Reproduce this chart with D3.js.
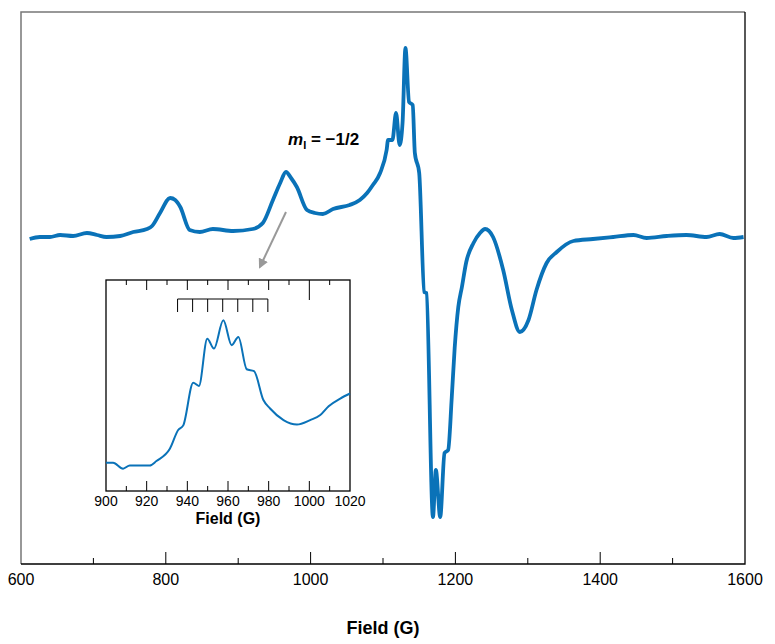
<!DOCTYPE html>
<html>
<head>
<meta charset="utf-8">
<script src="https://cdn.jsdelivr.net/npm/d3@7"></script>
<style>
  body { margin: 0; background: #fff; }
  text { font-family: 'Liberation Sans', Arial, sans-serif; }
</style>
</head>
<body>
<svg></svg>
<script>
// main spectrum, field in G, signal in arbitrary units
const mainField = [612, 626, 640, 654, 672, 691, 705, 718, 737, 755, 774, 781, 792, 806, 813, 820,
  833, 847, 865, 893, 920, 934, 948, 958, 966, 973, 981, 995, 1006, 1017, 1031, 1054, 1068, 1078,
  1086, 1096, 1105, 1107, 1113, 1118, 1123, 1127, 1131, 1136, 1141, 1144, 1150, 1157, 1160, 1169,
  1173, 1179, 1185, 1190, 1195, 1199, 1204, 1209, 1215, 1225, 1234, 1241, 1252, 1266, 1278, 1289,
  1301, 1312, 1326, 1340, 1363, 1390, 1418, 1446, 1464, 1492, 1519, 1547, 1565, 1584, 1598]
const mainSignal = [-2, 0, 0, 2, 1, 4, 2, 0, 1, 5, 8, 11, 24, 39, 37, 30,
  7, 5, 8, 6, 8, 14, 37, 54, 65, 59, 50, 27, 24, 23, 28, 32, 37, 44,
  52, 64, 87, 97, 97, 124, 92, 114, 189, 135, 132, 84, 64, -55, -56, -280,
  -233, -280, -216, -213, -160, -111, -70, -50, -25, -6, 4, 8, 0, -33, -73, -95,
  -83, -53, -26, -15, -4, -2, 0, 2, -1, 1, 2, 0, 3, -1, 0]

// inset: zoom on the m_I = -1/2 line
const insetField = [900, 903.5, 908.4, 911.7, 921.5, 924.8, 931.4, 935.5, 938, 942.9, 945.7, 949.8,
  953.1, 957.7, 961.8, 965.1, 969.2, 972.8, 977.4, 980.7, 987.3, 993.9, 1000.4, 1005.4, 1009.5,
  1015.2, 1020]
const insetSignal = [13.4, 13.4, 10.6, 12.1, 12.1, 14.2, 20, 28.9, 31.1, 51.3, 49.8, 72.2,
  67.5, 80.9, 69.1, 73, 57.7, 56.8, 43.1, 39.1, 33.6, 31.5, 33.6, 36, 40.2, 43.8, 46.2]

// hyperfine stick positions
const stickFields = [935.2, 942.6, 950.0, 957.4, 964.8, 972.2, 979.6]

const mainTicks = [600, 800, 1000, 1200, 1400, 1600]
const insetTicks = [900, 920, 940, 960, 980, 1000, 1020]

const width = 775
const height = 644
const blue = '#0a72b8'

const svg = d3.select('svg')
  .attr('width', width)
  .attr('height', height)

const x = d3.scaleLinear().domain([600, 1600]).range([21, 745])
const y = d3.scaleLinear().domain([-327, 225]).range([564, 12])

const mainData = mainField.map((f, i) => ({ f: f, s: mainSignal[i] }))

// frame: grey left/top, black right/bottom
svg.append('path')
  .attr('d', `M${x(600)},${y(-327)}V${y(225)}H${x(1600)}`)
  .attr('fill', 'none').attr('stroke', '#777').attr('stroke-width', 1.5)
svg.append('path')
  .attr('d', `M${x(600)},${y(-327)}H${x(1600)}V${y(225)}`)
  .attr('fill', 'none').attr('stroke', '#000').attr('stroke-width', 1.3)

// bottom ticks, pointing inward
svg.selectAll('.tick')
  .data(d3.range(700, 1600, 100))
  .enter().append('line')
  .attr('x1', (d) => x(d)).attr('x2', (d) => x(d))
  .attr('y1', y(-327))
  .attr('y2', (d) => y(-327) - (d % 200 === 0 ? 12 : 6))
  .attr('stroke', '#000').attr('stroke-width', 1)

svg.selectAll('.tlabel')
  .data(mainTicks)
  .enter().append('text')
  .attr('x', (d) => x(d))
  .attr('y', 585)
  .attr('text-anchor', 'middle')
  .attr('font-size', 16)
  .text((d) => d)

svg.append('text')
  .attr('x', (x(600) + x(1600)) / 2)
  .attr('y', 634)
  .attr('text-anchor', 'middle')
  .attr('font-size', 18)
  .attr('font-weight', 'bold')
  .text('Field (G)')

// the spectrum
const line = d3.line()
  .curve(d3.curveMonotoneX)
  .x((d) => x(d.f))
  .y((d) => y(d.s))

svg.append('path')
  .datum(mainData)
  .attr('fill', 'none')
  .attr('stroke', blue)
  .attr('stroke-width', 3.8)
  .attr('stroke-linejoin', 'round')
  .attr('d', line)

// m_I label
const lab = svg.append('text')
  .attr('x', 288)
  .attr('y', 145)
  .attr('font-size', 17)
  .attr('font-weight', 'bold')
lab.append('tspan').attr('font-style', 'italic').text('m')
lab.append('tspan').attr('font-size', 11).attr('dy', 4).text('I')
lab.append('tspan').attr('dy', -4).text(' = \u22121/2')

// arrow to inset
svg.append('defs').append('marker')
  .attr('id', 'head')
  .attr('viewBox', '0 0 10 10')
  .attr('refX', 8).attr('refY', 5)
  .attr('markerWidth', 5).attr('markerHeight', 5)
  .attr('orient', 'auto')
  .append('path')
  .attr('d', 'M0,0L10,5L0,10Z')
  .attr('fill', '#999')

svg.append('line')
  .attr('x1', x(966)).attr('y1', y(25))
  .attr('x2', x(930)).attr('y2', y(-30))
  .attr('stroke', '#999')
  .attr('stroke-width', 2)
  .attr('marker-end', 'url(#head)')

// inset
const ix = d3.scaleLinear().domain([900, 1020]).range([106, 350])
const iy = d3.scaleLinear().domain([0, 100]).range([491, 280])

const ins = svg.append('g')

ins.append('rect')
  .attr('x', ix(900)).attr('y', iy(100))
  .attr('width', ix(1020) - ix(900)).attr('height', iy(0) - iy(100))
  .attr('fill', '#fff').attr('stroke', '#000').attr('stroke-width', 1.3)

const minor = d3.range(910, 1020, 10)
const tickLen = (d) => d === 1000 ? 20 : (d % 20 === 0 ? 10 : 5)

ins.selectAll('.itop')
  .data(minor)
  .enter().append('line')
  .attr('x1', (d) => ix(d)).attr('x2', (d) => ix(d))
  .attr('y1', iy(100)).attr('y2', (d) => iy(100) + tickLen(d))
  .attr('stroke', '#000')

ins.selectAll('.ibot')
  .data(minor)
  .enter().append('line')
  .attr('x1', (d) => ix(d)).attr('x2', (d) => ix(d))
  .attr('y1', iy(0)).attr('y2', (d) => iy(0) - (d % 20 === 0 ? 10 : 5))
  .attr('stroke', '#000')

ins.selectAll('.ilabel')
  .data(insetTicks)
  .enter().append('text')
  .attr('x', (d) => ix(d))
  .attr('y', 506)
  .attr('text-anchor', 'middle')
  .attr('font-size', 14)
  .text((d) => d)

ins.append('text')
  .attr('x', (ix(900) + ix(1020)) / 2)
  .attr('y', 524)
  .attr('text-anchor', 'middle')
  .attr('font-size', 16)
  .attr('font-weight', 'bold')
  .text('Field (G)')

// stick diagram
ins.append('line')
  .attr('x1', ix(stickFields[0])).attr('x2', ix(stickFields[stickFields.length - 1]))
  .attr('y1', 299).attr('y2', 299)
  .attr('stroke', '#000')
ins.selectAll('.stick')
  .data(stickFields)
  .enter().append('line')
  .attr('x1', (d) => ix(d)).attr('x2', (d) => ix(d))
  .attr('y1', 299).attr('y2', 312)
  .attr('stroke', '#000')

const insetData = insetField.map((f, i) => ({ f: f, s: insetSignal[i] }))

ins.append('path')
  .datum(insetData)
  .attr('fill', 'none')
  .attr('stroke', blue)
  .attr('stroke-width', 2)
  .attr('d', d3.line()
    .curve(d3.curveMonotoneX)
    .x((d) => ix(d.f))
    .y((d) => iy(d.s)))
</script>
</body>
</html>
